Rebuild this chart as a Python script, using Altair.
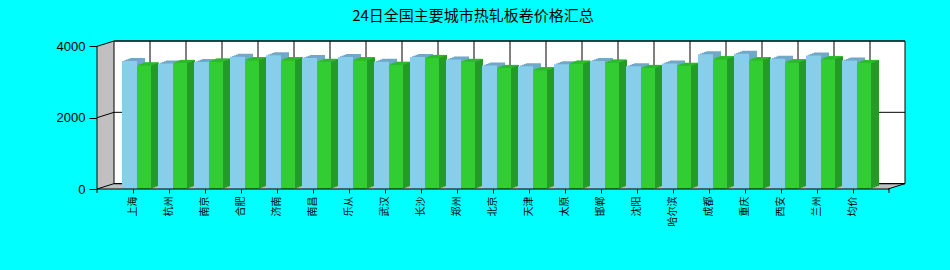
import altair as alt
import pandas as pd

# ---------------- data ----------------
cities = ["上海", "杭州", "南京", "合肥", "济南", "南昌", "乐从", "武汉", "长沙", "郑州",
          "北京", "天津", "太原", "邯郸", "沈阳", "哈尔滨", "成都", "重庆", "西安", "兰州", "均价"]
price_prev = [3590, 3520, 3560, 3710, 3750, 3670, 3700, 3570, 3700, 3630,
              3460, 3440, 3500, 3590, 3440, 3520, 3780, 3790, 3650, 3740, 3600]
price_today = [3460, 3530, 3570, 3610, 3610, 3560, 3610, 3480, 3670, 3560,
               3390, 3330, 3510, 3540, 3390, 3450, 3640, 3610, 3550, 3640, 3530]
y_tick_values = [0, 2000, 4000]
title_text = "24日全国主要城市热轧板卷价格汇总"

# ---------------- layout / style ----------------
PLOT_W, PLOT_H = 808, 148
YMAX = 4150            # top of back wall (data units)
BACK = YMAX - 4000     # vertical depth of walls in data units
WALL_DX = 17           # horizontal depth of walls (px)
FRONT_W = PLOT_W - WALL_DX

BLUE = "#87CEEB"
BLUE_TOP = "#6FA8C8"
GREEN = "#32CD32"
GREEN_SIDE = "#249B24"
GREEN_TOP = "#2DBE2D"
WALL = "#C0C0C0"

blue_df = pd.DataFrame({"city": cities, "price": price_prev})
green_df = pd.DataFrame({"city": cities, "price": price_today})

x_scale = alt.Scale(domain=cities, paddingInner=0, paddingOuter=0.7222, align=0.3462)
y_scale = alt.Scale(domain=[0, YMAX], nice=False, zero=True)
px_scale = alt.Scale(domain=[0, PLOT_W], nice=False, zero=False)

x_plain = alt.X("city:N", scale=x_scale, axis=None)
y_plain = alt.Y("price:Q", scale=y_scale, axis=None)

one = pd.DataFrame({"a": [0]})

# ---------------- walls ----------------
wall_df = pd.DataFrame({"px": [0, WALL_DX], "lo": [0, BACK], "hi": [4000, YMAX]})
left_wall = alt.Chart(wall_df).mark_area(color=WALL, orient="vertical").encode(
    x=alt.X("px:Q", scale=px_scale, axis=None),
    y=alt.Y("hi:Q", scale=y_scale, axis=None),
    y2="lo:Q",
)

floor_df = pd.DataFrame({"px": [0, WALL_DX, FRONT_W, PLOT_W],
                         "lo": [0, 0, 0, BACK], "hi": [0, BACK, BACK, BACK]})
floor = alt.Chart(floor_df).mark_area(color=WALL, orient="vertical").encode(
    x=alt.X("px:Q", scale=px_scale, axis=None),
    y=alt.Y("hi:Q", scale=y_scale, axis=None),
    y2="lo:Q",
)

back_df = pd.DataFrame({"top": [YMAX], "bot": [BACK]})
back_wall = alt.Chart(back_df).mark_rect(fill="white", stroke="black", strokeWidth=1).encode(
    x=alt.value(WALL_DX), x2=alt.value(PLOT_W),
    y=alt.Y("top:Q", scale=y_scale, axis=None), y2="bot:Q",
)

vb_df = pd.DataFrame({"city": cities, "top": [YMAX] * len(cities), "bot": [BACK] * len(cities)})
back_vgrid = alt.Chart(vb_df).mark_rule(color="black", strokeWidth=1, xOffset=WALL_DX).encode(
    x=x_plain,
    y=alt.Y("top:Q", scale=y_scale, axis=None),
    y2="bot:Q",
)

grid_df = pd.DataFrame({"v": y_tick_values, "v2": [v + BACK for v in y_tick_values]})
back_hgrid = alt.Chart(grid_df).mark_rule(color="black", strokeWidth=1).encode(
    x=alt.value(WALL_DX), x2=alt.value(PLOT_W),
    y=alt.Y("v2:Q", scale=y_scale, axis=None),
)
wall_diag = alt.Chart(grid_df).mark_rule(color="black", strokeWidth=1).encode(
    x=alt.value(0), x2=alt.value(WALL_DX),
    y=alt.Y("v:Q", scale=y_scale, axis=None), y2="v2:Q",
)
fd_df = pd.DataFrame({"lo": [0], "hi": [BACK]})
floor_diag = alt.Chart(fd_df).mark_rule(color="black", strokeWidth=1).encode(
    x=alt.value(FRONT_W), x2=alt.value(PLOT_W),
    y=alt.Y("lo:Q", scale=y_scale, axis=None), y2="hi:Q",
)

# ---------------- bars (3D look) ----------------
layers = [left_wall, floor, back_wall, back_vgrid, back_hgrid, wall_diag, floor_diag]

for k in range(1, 5):
    layers.append(
        alt.Chart(blue_df).mark_bar(width=15, xOffset=-3.5 + 2 * k, yOffset=-0.75 * k, color=BLUE_TOP)
        .encode(x=x_plain, y=y_plain)
    )
for k in range(1, 5):
    layers.append(
        alt.Chart(green_df).mark_bar(width=14, xOffset=11 + 2 * k, yOffset=-0.75 * k, color=GREEN_SIDE)
        .encode(x=x_plain, y=y_plain)
    )
for j in range(4):
    layers.append(
        alt.Chart(green_df).mark_bar(width=14, xOffset=12 + 2 * j, yOffset=-0.75 * (j + 1) - 0.25,
                                     y2Offset=-0.75 * j, color=GREEN_TOP)
        .encode(x=x_plain, y=y_plain, y2="price:Q")
    )

blue_front = alt.Chart(blue_df).mark_bar(width=15, xOffset=-3.5, color=BLUE).encode(
    x=alt.X("city:N", scale=x_scale,
            axis=alt.Axis(title=None, labelAngle=270, labelFont="Noto Sans CJK SC", labelFontSize=10,
                          labelColor="black", tickSize=4, tickColor="black", labelPadding=3,
                          domain=False, grid=False, bandPosition=0.5, labelOverlap=False)),
    y=alt.Y("price:Q", scale=y_scale,
            axis=alt.Axis(title=None, values=y_tick_values, format="d", tickSize=8, tickColor="black",
                          labelPadding=4, domain=False, grid=False, labelFont="Liberation Sans",
                          labelFontSize=13, labelColor="black")),
)
green_front = alt.Chart(green_df).mark_bar(width=14, xOffset=11, color=GREEN).encode(x=x_plain, y=y_plain)
layers += [blue_front, green_front]

# ---------------- front axis lines ----------------
yl_df = pd.DataFrame({"lo": [0], "hi": [4000]})
y_line = alt.Chart(yl_df).mark_rule(color="black", strokeWidth=1).encode(
    x=alt.value(0), y=alt.Y("lo:Q", scale=y_scale, axis=None), y2="hi:Q",
)
x_line = alt.Chart(one).mark_rule(color="black", strokeWidth=1).encode(
    x=alt.value(0), x2=alt.value(FRONT_W + 1), y=alt.value(PLOT_H),
)
end_tick_l = alt.Chart(one).mark_rule(color="black", strokeWidth=1).encode(
    x=alt.value(0), y=alt.value(PLOT_H), y2=alt.value(PLOT_H + 4),
)
end_tick_r = alt.Chart(one).mark_rule(color="black", strokeWidth=1).encode(
    x=alt.value(FRONT_W + 1), y=alt.value(PLOT_H), y2=alt.value(PLOT_H + 4),
)
layers += [y_line, x_line, end_tick_l, end_tick_r]

chart = alt.layer(*layers).resolve_scale(x="independent", y="independent").properties(
    width=PLOT_W,
    height=PLOT_H,
    autosize=alt.AutoSizeParams(type="none"),
    padding={"left": 97, "top": 41, "right": 45, "bottom": 81},
    title=alt.TitleParams(title_text, font="Noto Sans CJK SC", fontSize=15, fontWeight="normal",
                          color="black", anchor="middle", frame="group", dx=-28, offset=16),
).configure(background="#00FFFF").configure_view(stroke=None)

chart.save("out.html", embed_options={"renderer": "svg", "actions": False})
